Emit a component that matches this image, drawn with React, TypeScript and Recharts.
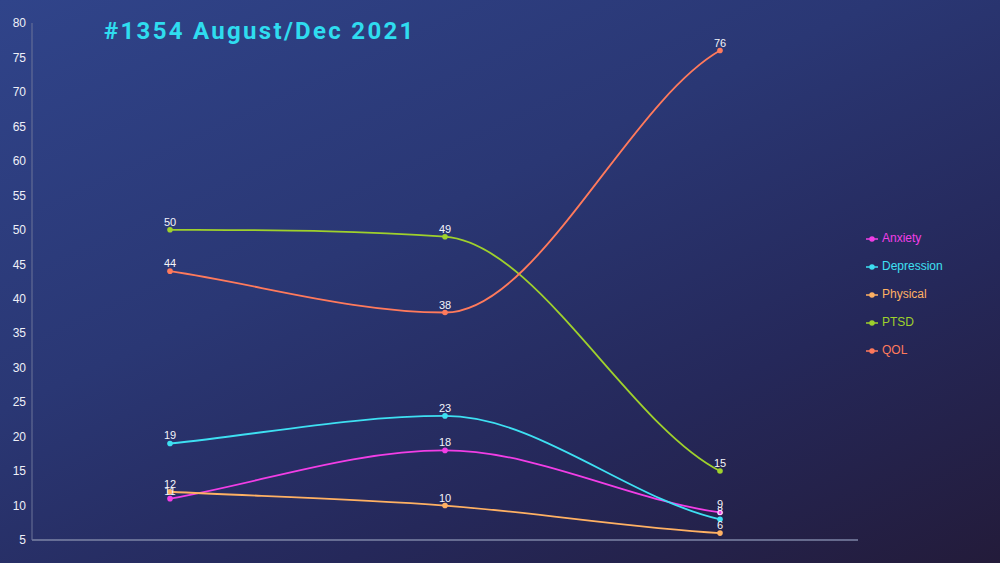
import { LabelList, Legend, Line, LineChart, XAxis, YAxis } from 'recharts';

const periods = ['Aug 2021', 'Oct 2021', 'Dec 2021'];
const anxiety = [11, 18, 9];
const depression = [19, 23, 8];
const physical = [12, 10, 6];
const ptsd = [50, 49, 15];
const qol = [44, 38, 76];
const yTicks = [5, 10, 15, 20, 25, 30, 35, 40, 45, 50, 55, 60, 65, 70, 75, 80];

const series = [
	{ key: 'Anxiety', values: anxiety, color: '#f23ee6' },
	{ key: 'Depression', values: depression, color: '#3ee0f2' },
	{ key: 'Physical', values: physical, color: '#ffb163' },
	{ key: 'PTSD', values: ptsd, color: '#9fd12c' },
	{ key: 'QOL', values: qol, color: '#ff7a5c' },
];

const data = periods.map((name, i) => {
	const row: Record<string, string | number> = { name };
	series.forEach((s) => {
		row[s.key] = s.values[i];
	});
	return row;
});

// monotone cubic (Fritsch-Carlson), with a softer tangent at the last point
// (a d3 curve factory, recharts feeds it the scaled points)
function monotoneCurve(context: any) {
	let xs: number[] = [];
	let ys: number[] = [];
	return {
		areaStart() {},
		areaEnd() {},
		lineStart() {
			xs = [];
			ys = [];
		},
		point(x: number, y: number) {
			xs.push(+x);
			ys.push(+y);
		},
		lineEnd() {
			const n = xs.length;
			if (!n) return;
			context.moveTo(xs[0], ys[0]);
			if (n === 1) return;
			const d: number[] = [];
			const m: number[] = [];
			for (let i = 0; i < n - 1; i++) {
				d[i] = (ys[i + 1] - ys[i]) / (xs[i + 1] - xs[i]);
			}
			for (let i = 0; i < n; i++) {
				if (i === 0) m[i] = d[0];
				else if (i === n - 1) m[i] = d[n - 2] * 0.6;
				else if (Math.sign(d[i - 1]) !== Math.sign(d[i]) || d[i] === 0)
					m[i] = 0;
				else m[i] = (d[i - 1] + d[i]) / 2;
			}
			for (let i = 0; i < n - 1; i++) {
				if (d[i] === 0) {
					m[i] = 0;
					m[i + 1] = 0;
					continue;
				}
				const a = m[i] / d[i];
				const b = m[i + 1] / d[i];
				const sq = a * a + b * b;
				if (sq <= 9) continue;
				const t = 3 / Math.sqrt(sq);
				m[i] = a * t * d[i];
				m[i + 1] = b * t * d[i];
			}
			for (let i = 0; i < n - 1; i++) {
				const dx = (xs[i + 1] - xs[i]) / 3;
				context.bezierCurveTo(
					xs[i] + dx,
					ys[i] + dx * m[i],
					xs[i + 1] - dx,
					ys[i + 1] - dx * m[i + 1],
					xs[i + 1],
					ys[i + 1],
				);
			}
		},
	};
}

// fill the legend's circle with the series colour
const legendCss = series
	.map(
		(s, i) =>
			`.legend-item-${i} .recharts-legend-icon { fill: ${s.color}; }`,
	)
	.join('\n');

export default function App() {
	return (
		<div
			style={{
				position: 'absolute',
				left: 0,
				top: 0,
				width: 1000,
				height: 563,
				background:
					'linear-gradient(155deg, #30448a 0%, #2a3774 40%, #25285a 70%, #231b3a 100%)',
				fontFamily: '"Liberation Sans", Arial, sans-serif',
			}}
		>
			<style>{legendCss}</style>
			<div
				style={{
					position: 'absolute',
					left: 104,
					top: 17,
					color: '#2fdcef',
					fontFamily: 'Roboto, sans-serif',
					fontWeight: 700,
					fontSize: 24,
					letterSpacing: 2.3,
					whiteSpace: 'nowrap',
				}}
			>
				#1354 August/Dec 2021
			</div>
			<LineChart
				width={1000}
				height={563}
				data={data}
				margin={{ top: 23, right: 142, left: 0, bottom: 20 }}
			>
				<XAxis
					dataKey="name"
					tick={false}
					tickLine={false}
					height={3}
					padding={{ left: 138, right: 138 }}
					axisLine={{ stroke: '#7c84a6', strokeWidth: 1.5 }}
				/>
				<YAxis
					width={32}
					domain={[5, 80]}
					ticks={yTicks}
					interval={0}
					tickLine={false}
					tickSize={4}
					tickMargin={2}
					axisLine={{ stroke: '#6c7499', strokeWidth: 1 }}
					tick={{ fill: '#eef0f8', fontSize: 12 }}
				/>
				<Legend
					layout="vertical"
					align="center"
					verticalAlign="middle"
					iconSize={12}
					itemSorter={(item) =>
						series.findIndex((s) => s.key === item.value)
					}
					wrapperStyle={{
						left: 866,
						top: 224,
						width: 'auto',
						lineHeight: '28px',
						fontSize: 12,
					}}
				/>
				{series.map((s) => (
					<Line
						key={s.key}
						type={monotoneCurve as any}
						dataKey={s.key}
						stroke={s.color}
						strokeWidth={1.8}
						dot={{ r: 2.8, fill: s.color, stroke: s.color, strokeWidth: 0 }}
						activeDot={false}
						isAnimationActive={false}
					>
						<LabelList
							dataKey={s.key}
							position="top"
							offset={4}
							fill="#f4f4fa"
							fontSize={11}
						/>
					</Line>
				))}
			</LineChart>
		</div>
	);
}
